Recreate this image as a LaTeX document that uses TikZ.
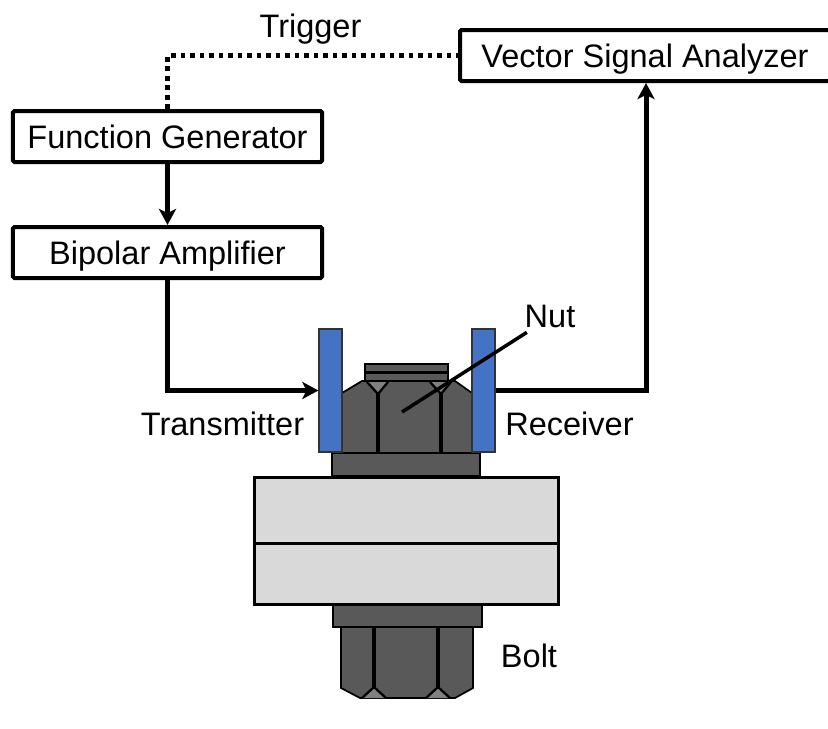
\documentclass[tikz,border=0pt]{standalone}
\usepackage{fontspec}
\setmainfont{Liberation Sans}
\usetikzlibrary{arrows.meta,positioning}
\definecolor{nutgray}{HTML}{595959}
\definecolor{chamfer}{HTML}{808080}
\definecolor{plategray}{HTML}{D9D9D9}
\definecolor{pzblue}{HTML}{4472C4}
\tikzset{
    instbox/.style={draw=black, line width=0.8mm, rounded corners=0.3mm, fill=white, minimum height=10.2mm, font=\fontsize{18.5}{22}\selectfont, text height=5mm, text depth=0.4mm, inner sep=0pt},
    wire/.style={line width=1mm, -{Stealth[length=3.2mm,width=3.4mm,inset=0.8mm]}},
    trigwire/.style={line width=1mm, dash pattern=on 0.95mm off 0.95mm},
    pzplate/.style={draw=black!80, line width=0.25mm, fill=pzblue, minimum width=4.6mm, minimum height=24.6mm, inner sep=0pt},
    steel/.style={draw=black, line width=0.35mm, fill=nutgray},
    clamped/.style={draw=black, line width=0.6mm, fill=plategray},
    edgeline/.style={draw=black, line width=0.8mm},
    chamferline/.style={draw=black, line width=0.45mm},
    partlabel/.style={font=\fontsize{18.5}{22}\selectfont, text height=5mm, text depth=0.4mm, inner sep=0pt},
}
\begin{document}
\begin{tikzpicture}[x=0.2mm,y=-0.2mm]
    \useasboundingbox (0,0) rectangle (828,728);
    % boxes
    \node[instbox, minimum width=61.8mm] (fgen) at (167.5,136.5) {Function Generator};
    \node[instbox, minimum width=61.8mm] (bamp) at (167.5,252.5) {Bipolar Amplifier};
    \node[instbox, minimum width=74mm] (vsa) at (645,55.5) {Vector Signal Analyzer};
    \node[partlabel] (trig) at (310.5,25.5) {Trigger};
    % plates
    \draw[clamped] (254,477) rectangle (558,543.5);
    \draw[clamped] (254,543.5) rectangle (558,604);
    % nut
    \draw[steel] (365,364) rectangle (448,381);
    \draw[line width=0.6mm] (366,372) -- (447,372);
    \draw[steel] (342,393) -- (362,381) -- (455,381) -- (472,393) -- (472,453) -- (342,453) -- cycle;
    \fill[chamfer] (367,382) -- (378,394) -- (388,382) -- cycle;
    \fill[chamfer] (430,382) -- (441,394) -- (451,382) -- cycle;
    \draw[chamferline] (367,382) -- (378,394) -- (388,382);
    \draw[chamferline] (430,382) -- (441,394) -- (451,382);
    \draw[edgeline] (378,393) -- (378,453);
    \draw[edgeline] (441,393) -- (441,453);
    \draw[steel] (332,453) rectangle (480,476);
    % bolt
    \draw[steel] (333,605) rectangle (482,627);
    \draw[steel] (341,627) -- (473,627) -- (473,688) -- (455,698) -- (360,698) -- (341,688) -- cycle;
    \fill[chamfer] (362,698) -- (374,687) -- (386,698) -- cycle;
    \fill[chamfer] (426,698) -- (438,687) -- (450,698) -- cycle;
    \draw[chamferline] (362,698) -- (374,687) -- (386,698);
    \draw[chamferline] (426,698) -- (438,687) -- (450,698);
    \draw[edgeline] (374,627) -- (374,688);
    \draw[edgeline] (438,627) -- (438,688);
    % transducers
    \node[pzplate] (txp) at (330.5,390.5) {};
    \node[pzplate] (rxp) at (483.5,390.5) {};
    % labels
    \node[partlabel] (txl) at (222.5,424) {Transmitter};
    \node[partlabel] (rxl) at (569.5,424) {Receiver};
    \node[partlabel] (nutl) at (550,315.5) {Nut};
    \node[partlabel] (boltl) at (529,656) {Bolt};
    \coordinate (nutp) at (402,412);
    % connectors
    \draw[trigwire] (fgen.north) |- (vsa.west);
    \draw[wire] (fgen.south) -- (bamp.north);
    \draw[wire] (bamp.south) |- (txp.west);
    \draw[wire] (rxp.east) -| ([xshift=0.2mm]vsa.south);
    \draw[line width=0.7mm] (nutp) -- ([xshift=0.5mm,yshift=-0.6mm]nutl.south west);
\end{tikzpicture}
\end{document}
